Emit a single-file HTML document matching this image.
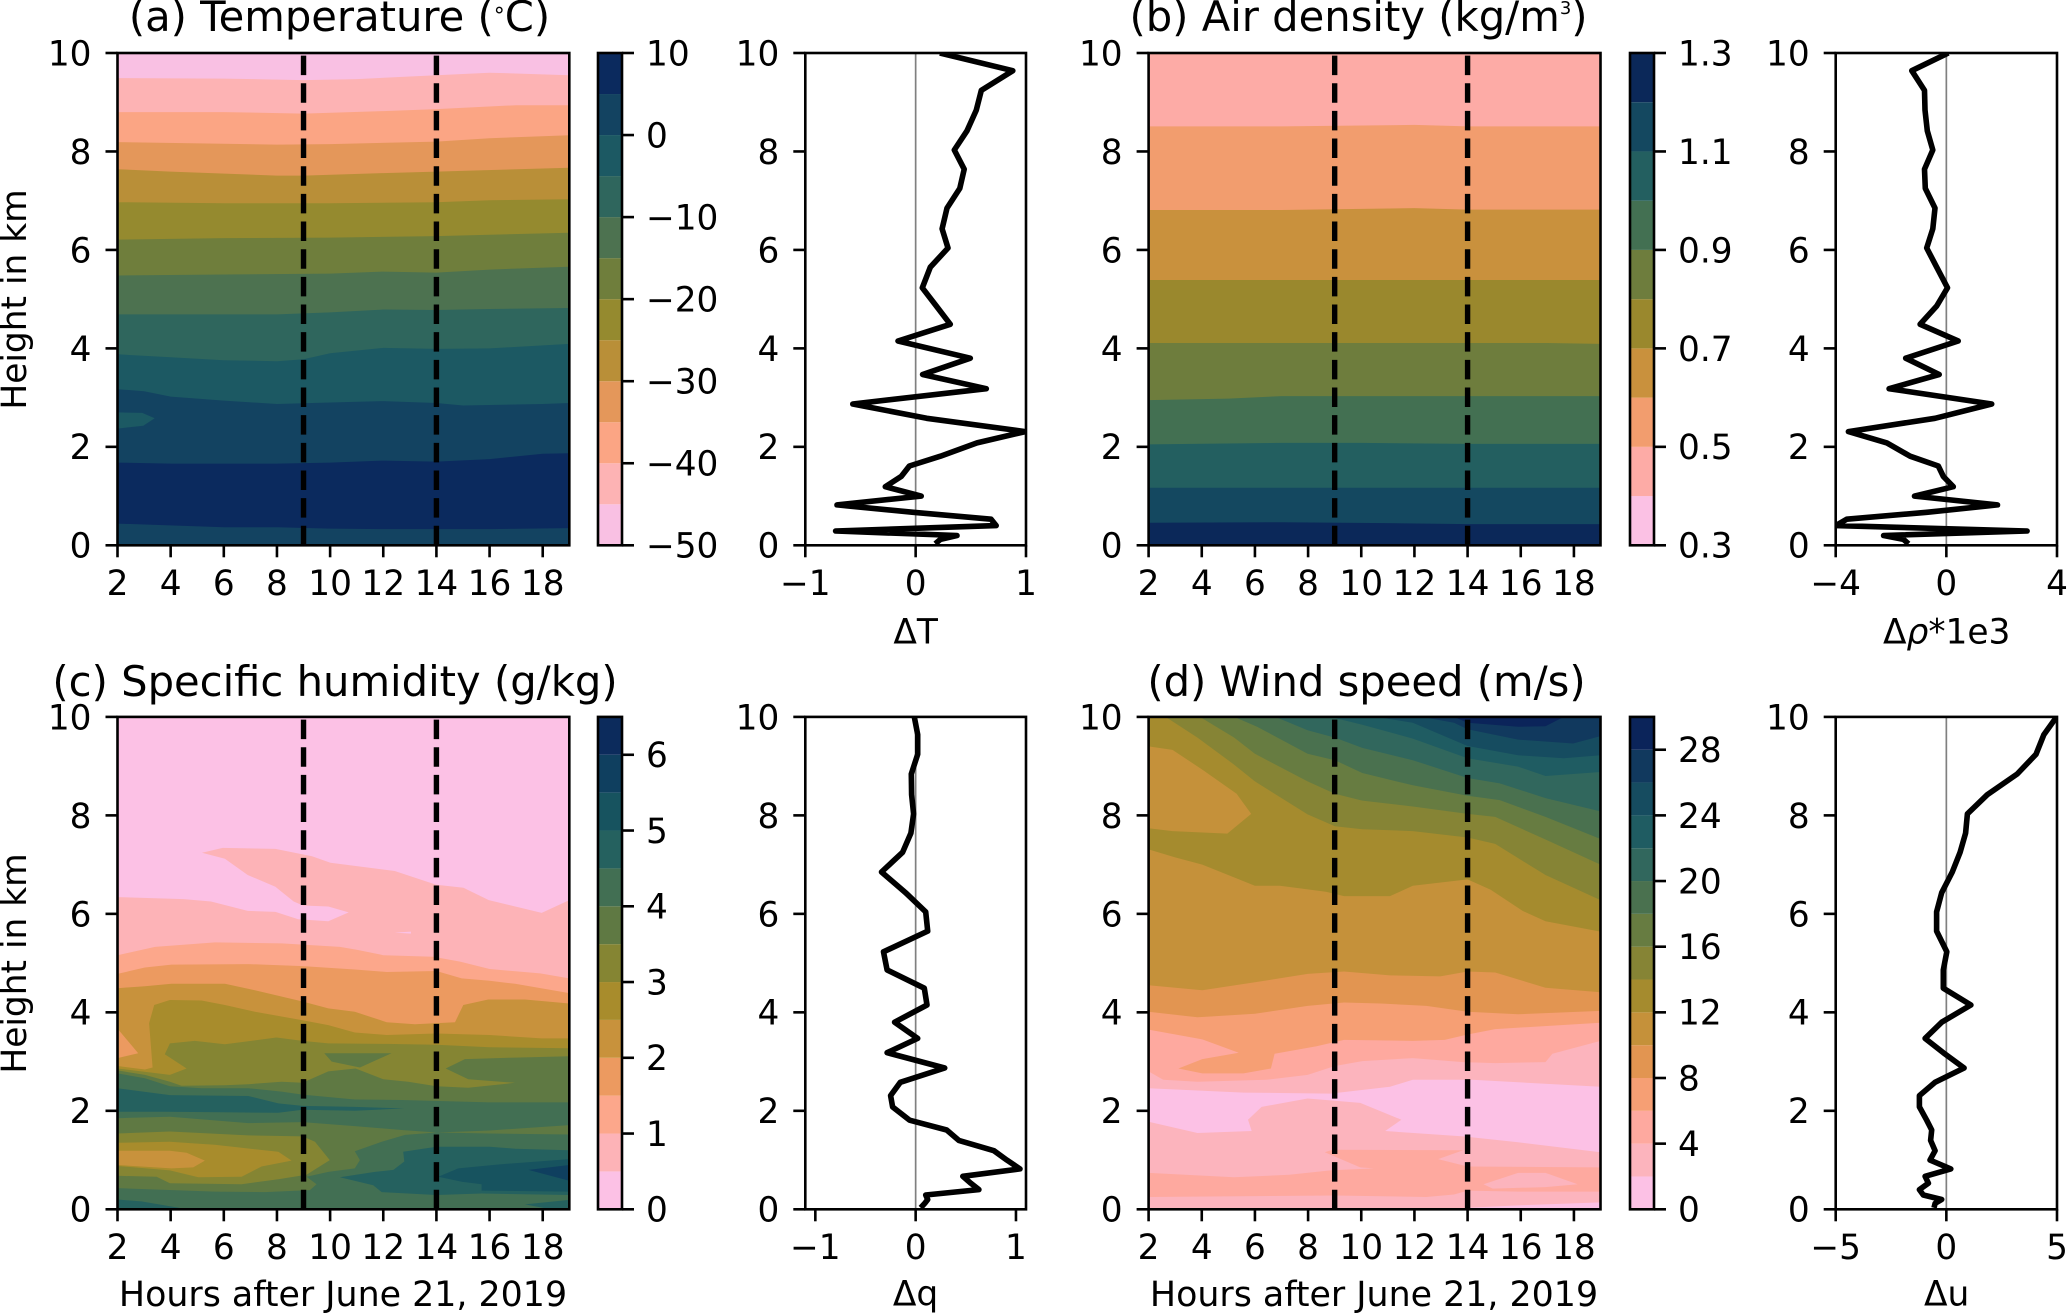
<!DOCTYPE html>
<html lang="en">
<head>
<meta charset="utf-8">
<title>Atmospheric profiles, June 21, 2019</title>
<style>
html,body{margin:0;padding:0;background:#fff;}
svg{display:block;}
text{font-family:"DejaVu Sans","Liberation Sans",sans-serif;fill:#000;}
.tick{font-size:34.3px;}
.label{font-size:34.4px;}
.xlabel{font-size:34.8px;}
.title{font-size:41.7px;text-anchor:middle;}
</style>
</head>
<body>
<svg id="figure" xmlns="http://www.w3.org/2000/svg" width="2067" height="1315" viewBox="0 0 2067 1315">
  <rect x="0" y="0" width="2067" height="1315" fill="#ffffff"/>
  <text class="title" x="339.5" y="31">(a) Temperature (<tspan font-size="22" dy="-8">°</tspan><tspan dy="8">C)</tspan></text>
  <text class="title" x="1358.5" y="31">(b) Air density (kg/m<tspan font-size="18" dy="-17">3</tspan><tspan dy="17">)</tspan></text>
  <text class="title" x="335" y="696">(c) Specific humidity (g/kg)</text>
  <text class="title" x="1366.5" y="696">(d) Wind speed (m/s)</text>
  <text class="label" text-anchor="middle" transform="translate(26,299.5) rotate(-90)">Height in km</text>
  <text class="label" text-anchor="middle" transform="translate(26,963.5) rotate(-90)">Height in km</text>
  <text class="xlabel" text-anchor="middle" x="343" y="1306">Hours after June 21, 2019</text>
  <text class="xlabel" text-anchor="middle" x="1374" y="1306">Hours after June 21, 2019</text>
  <text class="label" text-anchor="middle" x="915.6" y="643.5">ΔT</text>
  <text class="label" text-anchor="middle" x="1946.7" y="643.5">Δ<tspan font-style="italic">ρ</tspan>*1e3</text>
  <text class="label" text-anchor="middle" x="915.6" y="1305.5">Δq</text>
  <text class="label" text-anchor="middle" x="1946.7" y="1305.5">Δu</text>
</svg>
<script>
// ---------- shared axis values ----------
const hourTicks = [2, 4, 6, 8, 10, 12, 14, 16, 18];
const heightTicks = [0, 2, 4, 6, 8, 10];
const hourMarkers = [9, 14];

// ---------- colour-bar levels and tick labels ----------
const tempLevels = [-50,-45,-40,-35,-30,-25,-20,-15,-10,-5,0,5,10];
const tempBarTicks = [-50,-40,-30,-20,-10,0,10];
const tempBarLabels = ['−50','−40','−30','−20','−10','0','10'];
const densityLevels = [0.3,0.4,0.5,0.6,0.7,0.8,0.9,1.0,1.1,1.2,1.3];
const densityBarTicks = [0.3,0.5,0.7,0.9,1.1,1.3];
const densityBarLabels = ['0.3','0.5','0.7','0.9','1.1','1.3'];
const humidityLevels = [0,0.5,1,1.5,2,2.5,3,3.5,4,4.5,5,5.5,6,6.5];
const humidityBarTicks = [0,1,2,3,4,5,6];
const humidityBarLabels = ['0','1','2','3','4','5','6'];
const windLevels = [0,2,4,6,8,10,12,14,16,18,20,22,24,26,28,30];
const windBarTicks = [0,4,8,12,16,20,24,28];
const windBarLabels = ['0','4','8','12','16','20','24','28'];

// ---------- colours per level band ----------
const tempColors = ['#f9c0e3','#fdb3b4','#fba584','#e4975a','#b98f38','#958a2f','#6f7e3c','#4d7250','#2f665d','#1c5963','#134361','#0b2a5e'];
const densityColors = ['#fbc1e4','#fdaba6','#f29d6e','#c9913d','#9a882d','#6e7d3d','#437052','#235f60','#144860','#0b2859'];
const humidityColors = ['#fcc1e5','#fdb3b7','#fca78b','#ec9a60','#c8923c','#a88c2c','#858533','#5f7943','#426f53','#25615f','#17535f','#0f3f5f','#0c2b5c'];
const windColors = ['#fcc1e5','#fcb4bd','#fea99f','#f69f74','#e29551','#c5913a','#a58b2e','#868435','#677c41','#4a714f','#31675d','#1f5c62','#164c60','#11395e','#0b245a'];

// ---------- contour regions: [hour, km] vertices, painted in order ----------
const tempBase = 10;
const tempRegions = [
  {band:11, fill:'above', line:[[2,.44],[6,.365],[8,.365],[10,.34],[12,.33],[14,.33],[16,.33],[19,.35]]},
  {band:10, fill:'above', line:[[2,1.68],[4,1.66],[8,1.66],[10,1.68],[12,1.72],[14,1.70],[16,1.75],[18,1.86],[19,1.87]]},
  {band:9, fill:'above', line:[[2,3.17],[3,3.13],[4,3.02],[6,2.94],[8,2.87],[10,2.90],[12,2.93],[14,2.89],[15,2.84],[18,2.87],[19,2.89]]},
  {band:9, fill:'closed', line:[[2,2.70],[2.93,2.69],[3.4,2.58],[2.97,2.43],[2,2.37]]},
  {band:8, fill:'above', line:[[2,3.88],[4,3.82],[6,3.76],[8,3.74],[9,3.78],[10,3.9],[12,4.01],[14,3.99],[16,4.0],[19,4.09]]},
  {band:7, fill:'above', line:[[2,4.69],[6,4.69],[8,4.69],[10,4.73],[12,4.79],[14,4.78],[16,4.8],[19,4.82]]},
  {band:6, fill:'above', line:[[2,5.48],[6,5.5],[10,5.52],[12,5.56],[14,5.54],[16,5.6],[19,5.66]]},
  {band:5, fill:'above', line:[[2,6.21],[6,6.24],[10,6.25],[14,6.28],[16,6.31],[19,6.35]]},
  {band:4, fill:'above', line:[[2,6.97],[6,6.95],[10,6.95],[14,6.97],[16,7.01],[19,7.03]]},
  {band:3, fill:'above', line:[[2,7.64],[4,7.59],[8,7.51],[9,7.51],[12,7.56],[14,7.59],[19,7.67]]},
  {band:2, fill:'above', line:[[2,8.19],[8,8.14],[10,8.15],[14,8.2],[16,8.27],[19,8.33]]},
  {band:1, fill:'above', line:[[2,8.8],[6,8.8],[9,8.77],[12,8.82],[14,8.86],[17,8.94],[19,8.94]]},
  {band:0, fill:'above', line:[[2,9.49],[6,9.48],[9,9.45],[11,9.47],[14,9.55],[16,9.6],[19,9.55]]}
];

const densityBase = 9;
const densityRegions = [
  {band:8, fill:'above', line:[[2,.46],[7,.47],[11,.45],[14,.43],[19,.43]]},
  {band:7, fill:'above', line:[[2,1.17],[10,1.17],[19,1.17]]},
  {band:6, fill:'above', line:[[2,2.05],[7,2.08],[10,2.08],[14,2.06],[19,2.06]]},
  {band:5, fill:'above', line:[[2,2.95],[5,2.98],[7,3.03],[14,3.03],[19,3.03]]},
  {band:4, fill:'above', line:[[2,4.11],[14,4.11],[17,4.11],[19,4.09]]},
  {band:3, fill:'above', line:[[2,5.39],[19,5.39]]},
  {band:2, fill:'above', line:[[2,6.81],[7,6.81],[12,6.85],[14,6.82],[19,6.82]]},
  {band:1, fill:'above', line:[[2,8.51],[7,8.51],[12,8.54],[14,8.51],[19,8.51]]}
];

const humidityBase = 0;
const humidityRegions = [
  {band:1, fill:'below', line:[[2,6.34],[4.49,6.30],[5.52,6.25],[6.9,6.06],[7.94,6.04],[8.8,5.89],[9.93,5.85],[10.7,6.03],[9.93,6.15],[8.98,6.17],[8.63,6.25],[7.94,6.55],[6.9,6.79],[6.04,7.12],[5.18,7.24],[5.96,7.34],[7.94,7.32],[9.32,7.17],[10.01,7.04],[12.43,6.87],[13.99,6.59],[15.02,6.53],[15.97,6.28],[17.96,6.02],[19,6.28]]},
  {band:0, fill:'closed', line:[[12.43,5.62],[13.04,5.64],[13.04,5.6]]},
  {band:2, fill:'below', line:[[2,5.16],[3.41,5.33],[5.67,5.42],[8.18,5.40],[10.37,5.33],[11,5.27],[12,5.16],[13.88,5.13],[14.89,5.03],[16,4.88],[17.9,4.79],[19,4.69]]},
  {band:3, fill:'below', line:[[2,4.78],[3.03,4.91],[4.03,4.97],[6.92,4.98],[8.97,4.94],[10.93,4.87],[12.13,4.82],[14,4.84],[14.95,4.69],[16,4.64],[16.96,4.58],[19,4.39]]},
  {band:4, fill:'below', line:[[2,4.49],[3.03,4.53],[4.03,4.58],[6.04,4.58],[7.17,4.45],[8.96,4.22],[9.93,4.08],[10.93,4.01],[12.13,3.80],[13.19,3.76],[14.7,3.80],[15.01,4.15],[15.95,4.26],[17.33,4.26],[19,4.18]]},
  {band:3, fill:'closed', line:[[2,3.67],[2.78,3.17],[2,3.07]]},
  {band:5, fill:'below', line:[[2,2.91],[3.03,2.84],[3.32,2.88],[3.19,3.78],[3.38,4.15],[3.97,4.25],[5.16,4.24],[6.04,4.15],[7.17,4.01],[8.96,3.84],[9.93,3.74],[10.93,3.59],[12.13,3.54],[14,3.57],[16,3.54],[17.96,3.47],[19,3.47]]},
  {band:6, fill:'below', line:[[2,2.86],[3.97,2.73],[4.6,2.86],[3.78,3.15],[3.97,3.37],[4.91,3.42],[6.04,3.35],[7.98,3.49],[8.96,3.42],[9.93,3.37],[12.13,3.36],[14,3.34],[16,3.29],[19,3.27]]},
  {band:7, fill:'below', line:[[2,2.82],[3.03,2.73],[3.97,2.59],[4.41,2.51],[6.04,2.52],[6.92,2.54],[8.17,2.59],[8.96,2.57],[9.93,2.80],[10.96,2.86],[12,2.64],[12.94,2.59],[14,2.50],[15.2,2.47],[16.96,2.57],[15.2,2.64],[14.35,2.86],[15.07,3.05],[16.96,3.08],[19,3.11]]},
  {band:7, fill:'closed', line:[[9.78,3.17],[12.31,3.17],[11.12,2.88],[10.06,3.0]]},
  {band:8, fill:'below', line:[[2,2.76],[3.03,2.66],[3.97,2.50],[5.16,2.46],[6.92,2.46],[8.17,2.39],[8.96,2.33],[10.93,2.23],[12.69,2.22],[16,2.17],[19,2.17]]},
  {band:9, fill:'closed', line:[[2,2.46],[3.97,2.32],[6.92,2.30],[8.05,2.15],[8.96,2.10],[10.93,2.08],[12.79,2.05],[10.93,2.0],[8.96,2.02],[8.05,1.96],[5.91,1.97],[3.78,1.98],[2,1.98]]},
  {band:7, fill:'closed', line:[[2,1.85],[3.97,1.88],[6.92,1.75],[8.96,1.77],[10.93,1.69],[12.69,1.61],[14,1.56],[16,1.60],[19,1.71],[19,1.52],[16,1.54],[14,1.56],[12.82,1.51],[11.94,1.37],[10.93,1.18],[11.12,1.0],[10.93,.83],[9.93,.76],[9.11,.66],[9.49,.51],[9.24,.39],[7.55,.35],[5.66,.36],[2,.43]]},
  {band:6, fill:'closed', line:[[2,1.54],[3.97,1.58],[6.92,1.50],[8.96,1.48],[9.43,1.37],[9.99,1.0],[9.11,.70],[8.05,.61],[6.67,.51],[3.97,.53],[3.47,.66],[2,.68]]},
  {band:5, fill:'closed', line:[[2,1.35],[3.97,1.37],[5.66,1.31],[7.17,1.22],[8.05,1.17],[8.55,.99],[7.42,.87],[6.67,.66],[5.04,.65],[3.97,.79],[2,.88]]},
  {band:4, fill:'closed', line:[[2,1.19],[3.97,1.19],[4.6,1.15],[5.29,.99],[4.85,.85],[4.03,.83],[2,.90]]},
  {band:9, fill:'closed', line:[[10.37,.65],[11.68,.76],[12.38,.80],[12.79,.97],[12.75,1.17],[14,1.27],[16,1.27],[16.96,1.23],[19,1.20],[19,.29],[15.7,.32],[14,.29],[11.94,.35],[11.62,.49]]},
  {band:10, fill:'closed', line:[[14.07,.66],[14.82,.83],[16.33,.91],[19,1.02],[19,.36],[15.7,.38],[15.7,.51],[14.95,.56]]},
  {band:11, fill:'closed', line:[[17.46,.80],[19,.90],[19,.58]]},
  {band:9, fill:'closed', line:[[2,.2],[2.9,.16],[4.41,.02],[2,0]]},
  {band:9, fill:'closed', line:[[17.33,.10],[19,.19],[19,0],[18.1,.02]]}
];

const windBase = 1;
const windRegions = [
  {band:0, fill:'closed', line:[[14,.03],[15.9,.08],[19,.14],[19,0],[14,0]]},
  {band:2, fill:'closed', line:[[2,.74],[5.22,.65],[7.29,.70],[8.84,.79],[10.47,.83],[9.96,.85],[8.63,1.16],[8.92,1.21],[13.83,1.20],[12.89,1.02],[14,.87],[19,.85],[19,.36],[15.9,.36],[14,.38],[13.49,.30],[12.45,.25],[9.01,.28],[2,.25]]},
  {band:1, fill:'closed', line:[[14.6,.51],[15.9,.74],[16.93,.74],[18.14,.51],[16.93,.45],[14.95,.42]]},
  {band:0, fill:'closed', line:[[2,2.46],[5.57,2.37],[8.84,2.35],[11.08,2.49],[11.94,2.63],[14.18,2.63],[19,2.49],[19,1.16],[15.9,1.36],[13.83,1.48],[10.9,1.59],[11.51,1.82],[9.96,2.16],[7.98,2.25],[6.25,2.08],[5.74,1.82],[5.88,1.59],[3.84,1.55],[2,1.78]]},
  {band:2, fill:'above', line:[[2,2.80],[2.55,2.63],[3.84,2.59],[6.43,2.63],[7.98,2.73],[9.01,2.91],[10.04,3.01],[11.94,3.07],[13.83,2.99],[15.04,2.97],[16.93,2.99],[17.19,3.16],[19,3.42]]},
  {band:3, fill:'above', line:[[2,3.65],[4.02,3.45],[5.39,3.18],[4.02,3.05],[3.12,2.86],[4.02,2.76],[5.57,2.76],[6.6,2.86],[6.74,3.16],[8.32,3.31],[9.35,3.44],[11.94,3.42],[13.14,3.44],[14,3.55],[15.04,3.66],[19,3.79]]},
  {band:4, fill:'above', line:[[2,4.01],[3.84,3.90],[6,3.97],[7.98,4.13],[9.35,4.20],[10.73,4.18],[12.45,4.13],[14,4.01],[15.9,3.96],[19,4.03]]},
  {band:5, fill:'above', line:[[2,4.55],[4.02,4.45],[6,4.61],[7.98,4.78],[9.35,4.83],[11.08,4.75],[12.97,4.73],[14,4.83],[15.04,4.81],[16.93,4.50],[19,4.41]]},
  {band:6, fill:'above', line:[[2,7.31],[2.98,7.15],[4.02,7.0],[6,6.57],[6.94,6.57],[8.67,6.45],[9.35,6.36],[11.08,6.36],[11.94,6.57],[14,6.70],[14.87,6.49],[16.07,6.06],[16.93,5.85],[19,5.64]]},
  {band:5, fill:'closed', line:[[2,9.40],[2.9,9.33],[4.02,8.93],[5.31,8.44],[5.86,8.03],[4.96,7.63],[2.9,7.68],[2,7.74]]},
  {band:7, fill:'above', line:[[2.64,10],[3.84,9.58],[5.22,9.03],[6,8.69],[7.98,8.02],[9.01,7.78],[10.04,7.72],[11.94,7.68],[14,7.55],[15.04,7.42],[16.93,6.79],[19,6.28]]},
  {band:8, fill:'above', line:[[3.93,10],[5.22,9.58],[6,9.25],[7.98,8.69],[9.01,8.44],[10.04,8.30],[11.94,8.18],[14,8.03],[15.04,7.97],[16.93,7.51],[19,7.0]]},
  {band:9, fill:'above', line:[[5.22,10],[6.08,9.80],[7.98,9.25],[9.01,9.12],[10.04,8.86],[11.94,8.61],[14,8.40],[15.21,8.31],[16.93,7.97],[19,7.52]]},
  {band:10, fill:'above', line:[[6.77,10],[7.98,9.73],[9.01,9.58],[10.04,9.37],[11.94,9.12],[14,8.76],[15.21,8.65],[16.93,8.35],[19,8.08]]},
  {band:11, fill:'above', line:[[8.84,10],[10.04,9.84],[11.94,9.56],[14,9.16],[15.9,8.99],[16.93,8.80],[19,8.88]]},
  {band:12, fill:'above', line:[[10.56,10],[11.94,9.88],[14,9.41],[15.9,9.22],[17.62,9.16],[19,9.22]]},
  {band:13, fill:'above', line:[[12.28,10],[13.49,9.88],[14,9.75],[15.9,9.54],[17.97,9.46],[19,9.61]]},
  {band:14, fill:'closed', line:[[13.49,10],[14,9.88],[15.9,9.80],[16.93,9.81],[17.62,10]]}
];

// ---------- difference profiles (same height levels for all four) ----------
const profileHeights = [10,9.64,9.24,8.84,8.42,8.03,7.64,7.25,6.85,6.43,6.04,5.65,5.23,4.86,4.49,4.15,3.80,3.47,3.18,2.87,2.58,2.31,2.08,1.81,1.61,1.40,1.19,1.0,.82,.67,.53,.40,.29,.20,.12,.03];
const deltaTemp = [.22,.88,.595,.55,.465,.35,.44,.40,.284,.24,.293,.133,.06,.187,.314,-.16,.495,.063,.64,-.57,.10,.994,.556,.224,-.057,-.13,-.275,.05,-.713,-.02,.683,.73,-.725,.375,.224,.178];
const deltaDensity = [.07,-1.25,-.79,-.77,-.69,-.49,-.79,-.76,-.41,-.49,-.71,-.35,.04,-.35,-.95,.43,-1.47,-.26,-2.07,1.64,-.41,-3.54,-2.15,-1.31,-.29,-.11,.25,-1.15,1.85,-.71,-3.6,-4,2.92,-2.27,-1.55,-1.37];
const deltaHumidity = [-.013,.02,.02,-.043,-.04,-.02,-.047,-.13,-.34,-.10,.10,.12,-.32,-.285,.086,.113,-.21,.02,-.285,.29,-.153,-.25,-.23,-.06,.31,.43,.78,.91,1.04,.47,.55,.63,.10,.12,.09,.05];
const deltaWind = [4.98,4.41,4.05,3.2,1.85,.95,.87,.62,.27,-.21,-.44,-.44,.02,-.14,-.14,1.11,-.21,-.96,-.14,.8,-.51,-1.22,-1.22,-.89,-.66,-.71,-.51,-.74,.2,-.96,-.81,-1.22,-1.04,-.21,-.51,-.56];
const deltaTempTicks = [-1,0,1];
const deltaTempLabels = ['−1','0','1'];
const deltaDensityTicks = [-4,0,4];
const deltaDensityLabels = ['−4','0','4'];
const deltaHumidityTicks = [-1,0,1];
const deltaHumidityLabels = ['−1','0','1'];
const deltaWindTicks = [-5,0,5];
const deltaWindLabels = ['−5','0','5'];

// ---------- layout ----------
const SVGNS = 'http://www.w3.org/2000/svg';
const fig = document.getElementById('figure');
const rowBoxes = {top:{y0:53,y1:545.3}, bottom:{y0:716.9,y1:1209.3}};
const STROKE = 2.6;
const TICK = 12;

function mk(parent, tag, attrs, txt){
  const el = document.createElementNS(SVGNS, tag);
  for (const k in attrs) el.setAttribute(k, attrs[k]);
  if (txt !== undefined) el.textContent = txt;
  parent.appendChild(el);
  return el;
}
function linear(d0, d1, r0, r1){
  return function(v){ return r0 + (v - d0) * (r1 - r0) / (d1 - d0); };
}

function drawFrame(group, key, box, x, y, xTicks, xLabels){
  xTicks.forEach(function(t, i){
    const tk = mk(group, 'line', {x1:x(t), x2:x(t), y1:box.y1, y2:box.y1 + TICK, stroke:'#000', 'stroke-width':STROKE});
    
    
    const lb = mk(group, 'text', {class:'tick', x:x(t), y:box.y1 + 49.5, 'text-anchor':'middle'}, xLabels[i]);
    
    
  });
  heightTicks.forEach(function(t){
    const tk = mk(group, 'line', {x1:box.x0 - TICK, x2:box.x0, y1:y(t), y2:y(t), stroke:'#000', 'stroke-width':STROKE});
    
    
    const lb = mk(group, 'text', {class:'tick', x:box.x0 - 26, y:y(t) + 12.4, 'text-anchor':'end'}, String(t));
    
    
  });
  const sp = mk(group, 'rect', {x:box.x0, y:box.y0, width:box.x1 - box.x0, height:box.y1 - box.y0, fill:'none', stroke:'#000', 'stroke-width':STROKE});
  
  
}

function clipFor(key, box){
  const cp = mk(fig, 'clipPath', {id:'clip-' + key});
  mk(cp, 'rect', {x:box.x0, y:box.y0, width:box.x1 - box.x0, height:box.y1 - box.y0});
  return 'url(#clip-' + key + ')';
}

function drawContour(key, box, barBox, colors, baseBand, regions, levels, barTicks, barLabels){
  const x = linear(2, 19, box.x0, box.x1);
  const y = linear(0, 10, box.y1, box.y0);
  const group = mk(fig, 'g', {});
  
  
  const field = mk(group, 'g', {'clip-path':clipFor(key, box)});
  
  
  const base = mk(field, 'rect', {x:box.x0, y:box.y0, width:box.x1 - box.x0, height:box.y1 - box.y0, fill:colors[baseBand]});
  
  
  regions.forEach(function(region){
    const pts = region.line.slice();
    const firstHour = pts[0][0];
    if (region.fill === 'above') { pts.push([19, 10]); pts.push([firstHour, 10]); }
    if (region.fill === 'below') { pts.push([19, 0]); pts.push([firstHour, 0]); }
    const d = pts.map(function(p){ return x(p[0]).toFixed(1) + ',' + y(p[1]).toFixed(1); }).join(' ');
    const poly = mk(field, 'polygon', {points:d, fill:colors[region.band]});
    
    
  });
  hourMarkers.forEach(function(h){
    const mark = mk(field, 'line', {x1:x(h), x2:x(h), y1:y(0), y2:y(10), stroke:'#000', 'stroke-width':5.4, 'stroke-dasharray':'19.5 8.16'});
    
    
  });
  drawFrame(group, key, box, x, y, hourTicks, hourTicks.map(String));

  // colour bar
  const bar = mk(fig, 'g', {});
  
  
  const barY = linear(levels[0], levels[levels.length - 1], box.y1, box.y0);
  colors.forEach(function(c, i){
    const top = barY(levels[i + 1]);
    const bot = barY(levels[i]);
    const seg = mk(bar, 'rect', {x:barBox.x0, y:top, width:barBox.x1 - barBox.x0, height:bot - top, fill:c});
    
    
  });
  barTicks.forEach(function(t, i){
    const tk = mk(bar, 'line', {x1:barBox.x1, x2:barBox.x1 + TICK, y1:barY(t), y2:barY(t), stroke:'#000', 'stroke-width':STROKE});
    
    
    const lb = mk(bar, 'text', {class:'tick', x:barBox.x1 + 24, y:barY(t) + 12.4}, barLabels[i]);
    
    
  });
  const frame = mk(bar, 'rect', {x:barBox.x0, y:box.y0, width:barBox.x1 - barBox.x0, height:box.y1 - box.y0, fill:'none', stroke:'#000', 'stroke-width':STROKE});
  
  
}

function drawProfile(key, box, xMin, xMax, series, xTicks, xLabels){
  const x = linear(xMin, xMax, box.x0, box.x1);
  const y = linear(0, 10, box.y1, box.y0);
  const group = mk(fig, 'g', {});
  
  
  const plot = mk(group, 'g', {'clip-path':clipFor(key, box)});
  
  
  const zero = mk(plot, 'line', {x1:x(0), x2:x(0), y1:box.y0, y2:box.y1, stroke:'#808080', 'stroke-width':1.7});
  
  
  const d = series.map(function(v, i){ return x(v).toFixed(1) + ',' + y(profileHeights[i]).toFixed(1); }).join(' ');
  const line = mk(plot, 'polyline', {points:d, fill:'none', stroke:'#000', 'stroke-width':5.6, 'stroke-linejoin':'round', 'stroke-linecap':'butt'});
  
  
  drawFrame(group, key, box, x, y, xTicks, xLabels);
}

const leftBox = {x0:117.5, x1:569.3};
const rightBox = {x0:1148.6, x1:1600.5};
const leftBar = {x0:598, x1:622};
const rightBar = {x0:1630, x1:1654};
const lineLeft = {x0:805.3, x1:1026};
const lineRight = {x0:1835.7, x1:2057};
function box(col, row){ return {x0:col.x0, x1:col.x1, y0:rowBoxes[row].y0, y1:rowBoxes[row].y1}; }

drawContour('temperature', box(leftBox,'top'), leftBar, tempColors, tempBase, tempRegions, tempLevels, tempBarTicks, tempBarLabels);
drawContour('air-density', box(rightBox,'top'), rightBar, densityColors, densityBase, densityRegions, densityLevels, densityBarTicks, densityBarLabels);
drawContour('humidity', box(leftBox,'bottom'), leftBar, humidityColors, humidityBase, humidityRegions, humidityLevels, humidityBarTicks, humidityBarLabels);
drawContour('wind-speed', box(rightBox,'bottom'), rightBar, windColors, windBase, windRegions, windLevels, windBarTicks, windBarLabels);

drawProfile('delta-t', box(lineLeft,'top'), -1, 1, deltaTemp, deltaTempTicks, deltaTempLabels);
drawProfile('delta-rho', box(lineRight,'top'), -4, 4, deltaDensity, deltaDensityTicks, deltaDensityLabels);
drawProfile('delta-q', box(lineLeft,'bottom'), -1.1, 1.1, deltaHumidity, deltaHumidityTicks, deltaHumidityLabels);
drawProfile('delta-u', box(lineRight,'bottom'), -5, 5, deltaWind, deltaWindTicks, deltaWindLabels);
</script>
</body>
</html>
